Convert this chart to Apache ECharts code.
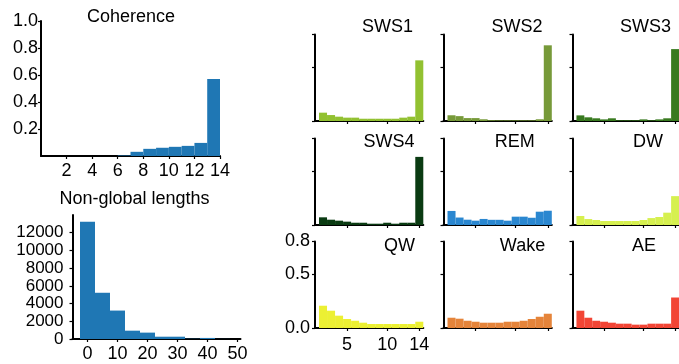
<!DOCTYPE html>
<html><head><meta charset="utf-8">
<script src="https://cdn.jsdelivr.net/npm/echarts@6/dist/echarts.min.js"></script>
<style>html,body{margin:0;padding:0;background:#fff}#c{width:679px;height:364px}</style>
</head><body><div id="c"></div>
<script>
// ---- data ----
const coherenceBins = [0.5,1.5,2.5,3.5,4.5,5.5,6.5,7.5,8.5,9.5,10.5,11.5,12.5,13.5];
const coherenceValues = [0,0,0,0,0,0,0.004,0.031,0.053,0.061,0.068,0.075,0.097,0.57];
const coherenceXTicks = [2,4,6,8,10,12,14];
const coherenceYTicks = [0.2,0.4,0.6,0.8,1.0];

const lengthBins = [0,5,10,15,20,25,30,35,40,45];
const lengthCounts = [13250,5220,3210,940,720,260,260,30,120,10];
const lengthXTicks = [0,10,20,30,40,50];
const lengthYTicks = [0,2000,4000,6000,8000,10000,12000];

const stateBins = [2,3,4,5,6,7,8,9,10,11,12,13,14];
const stateNames = ['SWS1','SWS2','SWS3','SWS4','REM','DW','QW','Wake','AE'];
const sws1 = [0.077,0.055,0.040,0.031,0.031,0.021,0.021,0.021,0.021,0.021,0.031,0.040,0.561];
const sws2 = [0.053,0.045,0.027,0.027,0.016,0.007,0.006,0.006,0.006,0.006,0.006,0.016,0.700];
const sws3 = [0.052,0.034,0.025,0.015,0.025,0.006,0.006,0.006,0.015,0.006,0.015,0.025,0.665];
const sws4 = [0.071,0.049,0.040,0.031,0.021,0.021,0.012,0.012,0.021,0.012,0.021,0.021,0.630];
const rem  = [0.130,0.069,0.049,0.040,0.056,0.048,0.048,0.040,0.077,0.077,0.067,0.123,0.132];
const dw   = [0.083,0.055,0.046,0.037,0.037,0.037,0.037,0.037,0.046,0.064,0.074,0.114,0.267];
const qw   = [0.206,0.160,0.114,0.083,0.067,0.049,0.037,0.037,0.037,0.037,0.037,0.037,0.058];
const wake = [0.095,0.086,0.067,0.058,0.049,0.049,0.049,0.058,0.058,0.067,0.083,0.104,0.132];
const ae   = [0.160,0.095,0.067,0.058,0.049,0.040,0.040,0.031,0.031,0.040,0.040,0.040,0.282];
const stateValues = [sws1,sws2,sws3,sws4,rem,dw,qw,wake,ae];
const stateColors = ['#92c131','#779a39','#387a1f','#0a3b12','#2a87d0','#d6f04f','#ecf033','#e5843a','#f24535'];
const stateXTicks = [5,10,14];
const stateYTicks = [0,0.5,0.8];

// ---- layout ----
const FONT = '"Liberation Sans", Arial, Helvetica, sans-serif';
const TITLE_FS = 18;
const colLeft = [315, 443.5, 572.5];
const rowTop = [34.5, 138.5, 241.5];
const panelW = 108.3, panelH = 86.5;
const titlePos = [[387.5,27.3],[517,27.3],[645.5,27.3],[389,141.7],[514.7,141.7],[648,141.7],[399.5,246.3],[522.5,246.3],[644,246.3]];

function hist(width){
  return function(params, api){
    const c = api.value(0), h = api.value(1);
    const p0 = api.coord([c - width/2, 0]);
    const p1 = api.coord([c + width/2, h]);
    return {type:'rect', shape:{x:p0[0], y:p1[1], width:p1[0]-p0[0], height:p0[1]-p1[1]}, style:{fill: api.visual('color')}};
  };
}
function axis(opts){
  return {
    type:'value', gridIndex: opts.grid, min: opts.min, max: opts.max,
    axisLine:{show:true, onZero:false, lineStyle:{color:'#000', width:2}},
    axisTick:{show:true, length:3, inside:false, lineStyle:{color:'#000', width:1.2}, customValues: opts.ticks},
    splitLine:{show:false},
    axisLabel:{show: opts.labels !== false, color:'#000', fontSize: opts.fs || 18, fontFamily:FONT, margin: opts.margin || 4,
      hideOverlap:false, showMinLabel:true, showMaxLabel:true,
      customValues: opts.ticks, formatter: opts.fmt || (v => String(v))}
  };
}

const grids = [], xAxes = [], yAxes = [], series = [], graphics = [];
// Coherence
grids.push({left:41, top:21, width:179, height:135});
xAxes.push(axis({grid:0, min:0, max:14, ticks:coherenceXTicks, margin:6}));
yAxes.push(axis({grid:0, min:0, max:1.0, ticks:coherenceYTicks, margin:3, fmt:v=>v.toFixed(1)}));
series.push({type:'custom', xAxisIndex:0, yAxisIndex:0, renderItem:hist(1), itemStyle:{color:'#1f77b4'},
  encode:{x:0,y:1}, data: coherenceBins.map((b,i)=>[b, coherenceValues[i]])});
graphics.push({type:'text', x:131, y:17, style:{text:'Coherence', font:TITLE_FS+'px '+FONT, fill:'#000', textAlign:'center', textVerticalAlign:'middle', textBaseline:'middle'}});
// Non-global lengths
grids.push({left:72.5, top:215, width:168, height:124});
xAxes.push(axis({grid:1, min:-5, max:51, ticks:lengthXTicks, margin:6}));
yAxes.push(axis({grid:1, min:0, max:14000, ticks:lengthYTicks, margin:9, fs:17}));
series.push({type:'custom', xAxisIndex:1, yAxisIndex:1, renderItem:hist(5), itemStyle:{color:'#1f77b4'},
  encode:{x:0,y:1}, data: lengthBins.map((b,i)=>[b, lengthCounts[i]])});
graphics.push({type:'text', x:134.5, y:199, style:{text:'Non-global lengths', font:TITLE_FS+'px '+FONT, fill:'#000', textAlign:'center', textVerticalAlign:'middle', textBaseline:'middle'}});
// State panels
stateNames.forEach((name, k) => {
  const r = Math.floor(k/3), c = k%3, g = grids.length;
  grids.push({left:colLeft[c], top:rowTop[r], width:panelW, height:panelH});
  const lab = (r===2 && c===0);
  xAxes.push(axis({grid:g, min:1, max:14.5, ticks:stateXTicks, labels:lab, margin:8}));
  yAxes.push(axis({grid:g, min:0, max:0.8, ticks:stateYTicks, labels:lab, margin:5, fmt:v=>v.toFixed(1)}));
  series.push({type:'custom', xAxisIndex:g, yAxisIndex:g, renderItem:hist(1), itemStyle:{color:stateColors[k]},
    encode:{x:0,y:1}, data: stateBins.map((b,i)=>[b, stateValues[k][i]])});
  graphics.push({type:'text', x:titlePos[k][0], y:titlePos[k][1], style:{text:name, font:TITLE_FS+'px '+FONT, fill:'#000', textAlign:'center', textVerticalAlign:'middle', textBaseline:'middle'}});
});

const chart = echarts.init(document.getElementById('c'), null, {renderer:'canvas'});
chart.setOption({animation:false, backgroundColor:'#fff', grid:grids, xAxis:xAxes, yAxis:yAxes, series:series, graphic:graphics});
</script>
</body></html>
